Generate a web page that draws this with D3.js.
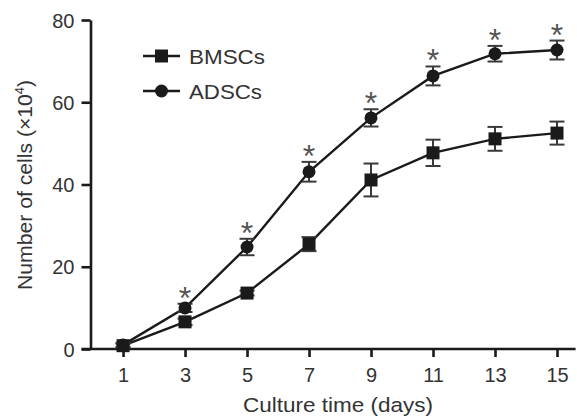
<!DOCTYPE html>
<html><head><meta charset="utf-8">
<script src="https://cdn.jsdelivr.net/npm/d3@7"></script>
<style>html,body{margin:0;padding:0;background:#fff;}svg{display:block;font-family:"Liberation Sans",Arial,sans-serif;}</style>
</head><body>
<svg id="chart" width="577" height="418"></svg>
<script>
const days = [1, 3, 5, 7, 9, 11, 13, 15];
const bmscMean = [0.8, 6.6, 13.6, 25.5, 41.1, 47.7, 51.1, 52.5];
const bmscErr  = [0.5, 0.8, 0.6, 1.7, 4.0, 3.2, 2.9, 2.8];
const adscMean = [1.0, 10.0, 24.8, 43.1, 56.2, 66.4, 71.8, 72.7];
const adscErr  = [0.5, 1.0, 2.0, 2.4, 2.1, 2.3, 1.9, 2.3];
const sigFlags = [false, true, true, true, true, true, true, true];
const yTicks = [0, 20, 40, 60, 80];
const xTicks = [1, 3, 5, 7, 9, 11, 13, 15];
const seriesNames = ["BMSCs", "ADSCs"];

const svg = d3.select("#chart");
const x = d3.scaleLinear().domain([-0.05, 15.6]).range([90.5, 575.6]);
const y = d3.scaleLinear().domain([0, 80]).range([349, 20]);
const ink = "#1a1a1a";

// axes
const yAxis = svg.append("g").attr("transform", `translate(${x(-0.05)},0)`)
  .call(d3.axisLeft(y).tickValues(yTicks).tickSize(9).tickPadding(7).tickSizeOuter(0));
const xAxis = svg.append("g").attr("transform", `translate(0,${y(0)})`)
  .call(d3.axisBottom(x).tickValues(xTicks).tickSize(8).tickPadding(11).tickSizeOuter(0));
[yAxis, xAxis].forEach(g => {
  g.select(".domain").attr("stroke", ink).attr("stroke-width", 2.6);
  g.selectAll(".tick line").attr("stroke", ink).attr("stroke-width", 2.6);
  g.selectAll(".tick text").attr("fill", "#333").attr("font-size", 20)
    .attr("font-family", "'Liberation Sans',Arial,sans-serif");
});
xAxis.select(".domain").attr("d", `M${x(-0.05) - 9},0H${x(15.6)}`);
yAxis.selectAll(".tick text").attr("dy", "0.36em");
xAxis.selectAll(".tick text").attr("dy", "0.72em");

// axis titles
svg.append("text").attr("x", 338).attr("y", 412).attr("text-anchor", "middle")
  .attr("font-size", 20.5).attr("fill", "#333")
  .attr("textLength", 190).attr("lengthAdjust", "spacingAndGlyphs")
  .text("Culture time (days)");
const yl = svg.append("text").attr("transform", "translate(32,185) rotate(-90)")
  .attr("text-anchor", "middle").attr("font-size", 20).attr("fill", "#333")
  .attr("textLength", 210).attr("lengthAdjust", "spacingAndGlyphs");
yl.append("tspan").text("Number of cells (×10");
yl.append("tspan").attr("font-size", 12).attr("dy", -8).text("4");
yl.append("tspan").attr("dy", 8).text(")");

// series
const bm = days.map((d, i) => ({ d, v: bmscMean[i], e: bmscErr[i] }));
const ad = days.map((d, i) => ({ d, v: adscMean[i], e: adscErr[i], s: sigFlags[i] }));
const line = d3.line().x(p => x(p.d)).y(p => y(p.v));

function drawSeries(data, shape) {
  const g = svg.append("g");
  g.append("path").datum(data).attr("d", line).attr("fill", "none")
    .attr("stroke", ink).attr("stroke-width", 2.4);
  const eb = g.selectAll(".eb").data(data).join("g").attr("stroke", "#3a3a3a").attr("stroke-width", 2);
  eb.append("line").attr("x1", p => x(p.d)).attr("x2", p => x(p.d))
    .attr("y1", p => y(p.v + p.e)).attr("y2", p => y(p.v - p.e));
  eb.append("line").attr("x1", p => x(p.d) - 7.5).attr("x2", p => x(p.d) + 7.5)
    .attr("y1", p => y(p.v + p.e)).attr("y2", p => y(p.v + p.e));
  eb.append("line").attr("x1", p => x(p.d) - 7.5).attr("x2", p => x(p.d) + 7.5)
    .attr("y1", p => y(p.v - p.e)).attr("y2", p => y(p.v - p.e));
  if (shape === "square") {
    g.selectAll(".m").data(data).join("rect")
      .attr("x", p => x(p.d) - 6.5).attr("y", p => y(p.v) - 6.5)
      .attr("width", 13).attr("height", 13).attr("fill", ink);
  } else {
    g.selectAll(".m").data(data).join("circle")
      .attr("cx", p => x(p.d)).attr("cy", p => y(p.v)).attr("r", 6.5).attr("fill", ink);
  }
}
drawSeries(bm, "square");
drawSeries(ad, "circle");

// significance asterisks
svg.selectAll(".star").data(ad.filter(p => p.s)).join("text")
  .attr("x", p => x(p.d)).attr("y", p => y(p.v + p.e) + 5)
  .attr("text-anchor", "middle").attr("font-size", 32).attr("fill", "#555")
  .text("*");

// legend
const leg = svg.append("g");
const legY = [56, 91];
seriesNames.forEach((name, i) => {
  const ly = legY[i];
  leg.append("line").attr("x1", 143).attr("x2", 180).attr("y1", ly).attr("y2", ly)
    .attr("stroke", ink).attr("stroke-width", 2.4);
  if (i === 0) leg.append("rect").attr("x", 155).attr("y", ly - 6.5).attr("width", 13).attr("height", 13).attr("fill", ink);
  else leg.append("circle").attr("cx", 161.5).attr("cy", ly).attr("r", 6.5).attr("fill", ink);
  leg.append("text").attr("x", 189).attr("y", ly + 7.5).attr("font-size", 21).attr("fill", "#333")
    .attr("textLength", name === "BMSCs" ? 76 : 73).attr("lengthAdjust", "spacingAndGlyphs").text(name);
});
</script>
</body></html>
